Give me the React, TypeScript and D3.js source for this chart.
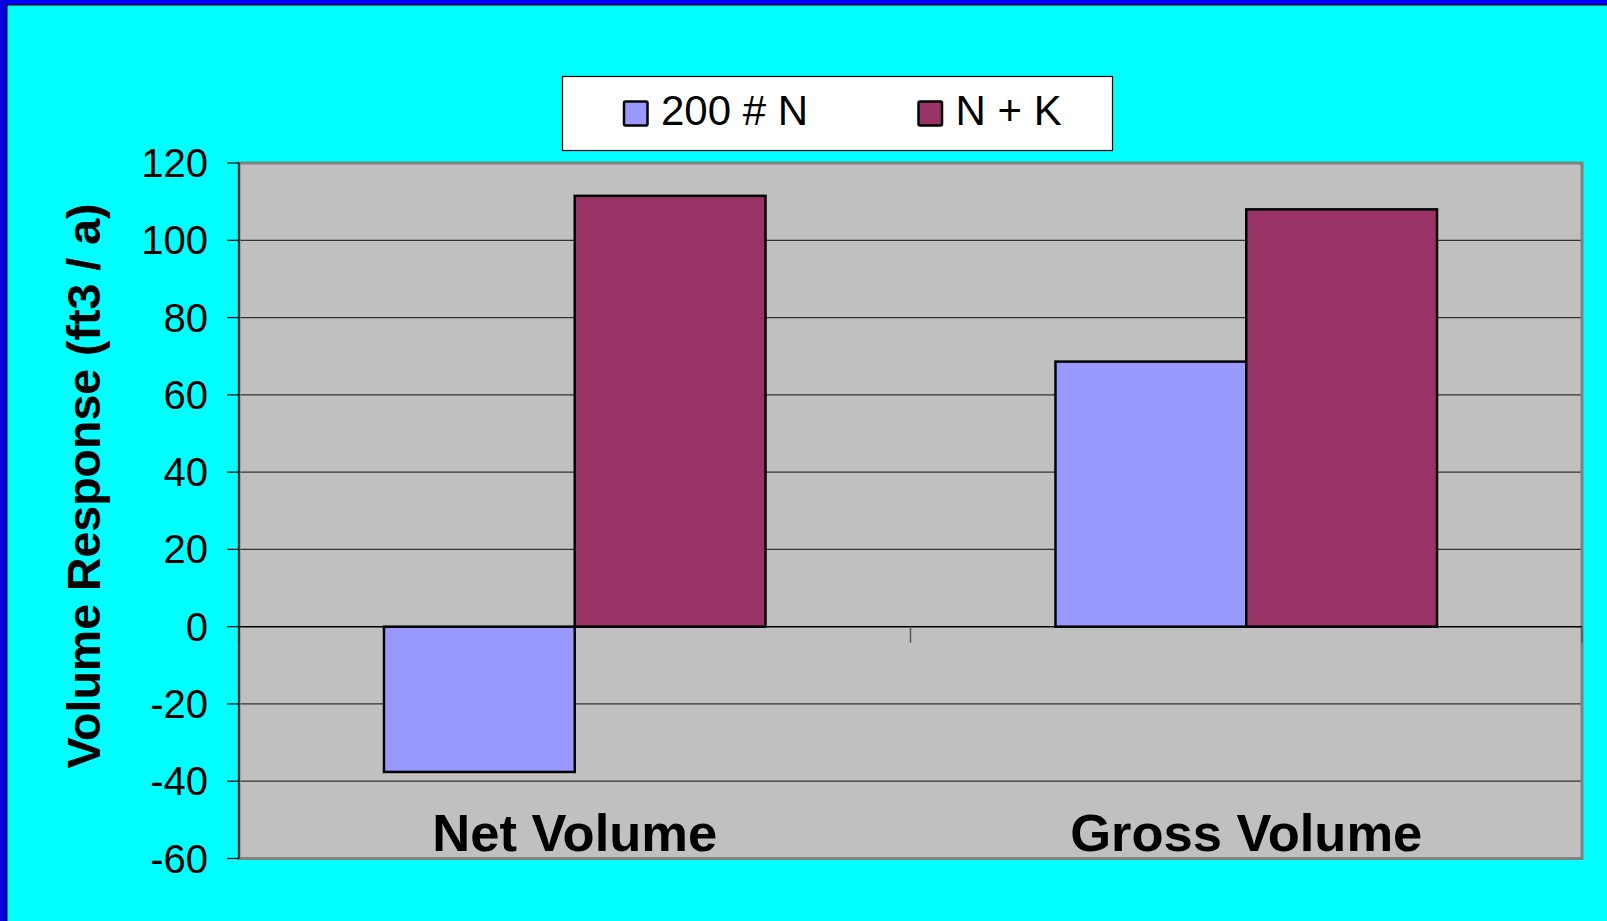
import React from "react";
import * as d3 from "d3";

// Chart data
const categories = ["Net Volume", "Gross Volume"];
const seriesNames = ["200 # N", "N + K"];
const seriesN200 = [-37.6, 68.6];
const seriesNK = [111.5, 108.0];
const yTicks = [-60, -40, -20, 0, 20, 40, 60, 80, 100, 120];

const seriesValues = [seriesN200, seriesNK];
const seriesColors = ["#9999ff", "#993366"];

const W = 1607;
const H = 921;
const FONT = "'Liberation Sans', Arial, Helvetica, sans-serif";

// plot frame
const plot = { left: 239, right: 1582, top: 163, bottom: 858.5 };

export default function App() {
  const y = d3.scaleLinear().domain([-60, 120]).range([plot.bottom, plot.top]);
  const x0 = d3.scaleBand<string>().domain(categories).range([plot.left, plot.right]).padding(0);
  const band = x0.bandwidth();
  // gap width ~150% of a bar between clusters
  const barW = band / (seriesNames.length + 1.52);
  const groupW = barW * seriesNames.length;
  const x1 = d3
    .scaleBand<string>()
    .domain(seriesNames)
    .range([(band - groupW) / 2, (band + groupW) / 2])
    .padding(0);

  const zeroY = y(0);
  const catTickXs = [plot.left, ...categories.map((c) => (x0(c) as number) + band)];

  return (
    <svg
      width={W}
      height={H}
      style={{ position: "absolute", left: 0, top: 0, display: "block" }}
      xmlns="http://www.w3.org/2000/svg"
    >
      {/* slide background with frame */}
      <rect x={0} y={0} width={W} height={H} fill="#00ffff" />
      <rect x={0} y={0} width={W} height={4} fill="#0000ff" />
      <rect x={0} y={4} width={W} height={1.5} fill="#000033" />
      <rect x={0} y={0} width={7} height={H} fill="#0000dd" />
      <rect x={6.5} y={4} width={1} height={H} fill="#000044" />

      {/* plot area */}
      <rect
        x={plot.left}
        y={plot.top}
        width={plot.right - plot.left}
        height={plot.bottom - plot.top}
        fill="#c0c0c0"
      />

      {/* gridlines */}
      {yTicks
        .filter((t) => t !== -60 && t !== 120 && t !== 0)
        .map((t) => (
          <line
            key={"g" + t}
            x1={plot.left}
            x2={plot.right}
            y1={y(t)}
            y2={y(t)}
            stroke="#333333"
            strokeWidth={1.2}
          />
        ))}

      <rect
        x={plot.left}
        y={plot.top}
        width={plot.right - plot.left}
        height={plot.bottom - plot.top}
        fill="none"
        stroke="#808080"
        strokeWidth={3}
      />

      {/* bars */}
      {categories.map((c, ci) => (
        <g key={c} transform={`translate(${x0(c)},0)`}>
          {seriesNames.map((s, si) => {
            const v = seriesValues[si][ci];
            const top = y(Math.max(0, v));
            const bot = y(Math.min(0, v));
            return (
              <rect
                key={s}
                x={x1(s) as number}
                y={top}
                width={x1.bandwidth()}
                height={bot - top}
                fill={seriesColors[si]}
                stroke="#000000"
                strokeWidth={2.5}
              />
            );
          })}
        </g>
      ))}

      {/* category axis at zero */}
      <line x1={plot.left} x2={plot.right} y1={zeroY} y2={zeroY} stroke="#000000" strokeWidth={1.5} />
      {catTickXs.map((tx, i) => (
        <line
          key={"ct" + i}
          x1={tx}
          x2={tx}
          y1={zeroY}
          y2={zeroY + 16}
          stroke="#555555"
          strokeWidth={1.5}
        />
      ))}

      {/* value axis */}
      <line x1={plot.left} x2={plot.left} y1={plot.top} y2={plot.bottom} stroke="#222222" strokeWidth={1.5} />
      {yTicks.map((t) => (
        <g key={"yt" + t}>
          <line x1={plot.left - 12} x2={plot.left} y1={y(t)} y2={y(t)} stroke="#000000" strokeWidth={1.2} />
          <text
            x={208}
            y={y(t) + 14}
            textAnchor="end"
            fontFamily={FONT}
            fontSize={40}
            fill="#000000"
          >
            {t}
          </text>
        </g>
      ))}

      {/* category labels */}
      {categories.map((c) => (
        <text
          key={"cl" + c}
          x={(x0(c) as number) + band / 2}
          y={851}
          textAnchor="middle"
          fontFamily={FONT}
          fontSize={52.5}
          fontWeight="bold"
          fill="#000000"
        >
          {c}
        </text>
      ))}

      {/* value axis title */}
      <text
        transform={`translate(99.5,486) rotate(-90)`}
        textAnchor="middle"
        fontFamily={FONT}
        fontSize={46.5}
        fontWeight="bold"
        fill="#000000"
      >
        Volume Response (ft3 / a)
      </text>

      {/* legend */}
      <rect x={562.5} y={76.5} width={550} height={74} fill="#ffffff" stroke="#000000" strokeWidth={1.2} />
      {seriesNames.map((s, i) => {
        const sx = i === 0 ? 624 : 918.5;
        return (
          <g key={"lg" + s}>
            <rect
              x={sx}
              y={101.5}
              width={23.5}
              height={24}
              rx={1.5}
              fill={seriesColors[i]}
              stroke="#000000"
              strokeWidth={2.5}
            />
            <text x={sx + 37} y={124.5} fontFamily={FONT} fontSize={42} fill="#000000">
              {s}
            </text>
          </g>
        );
      })}
    </svg>
  );
}
